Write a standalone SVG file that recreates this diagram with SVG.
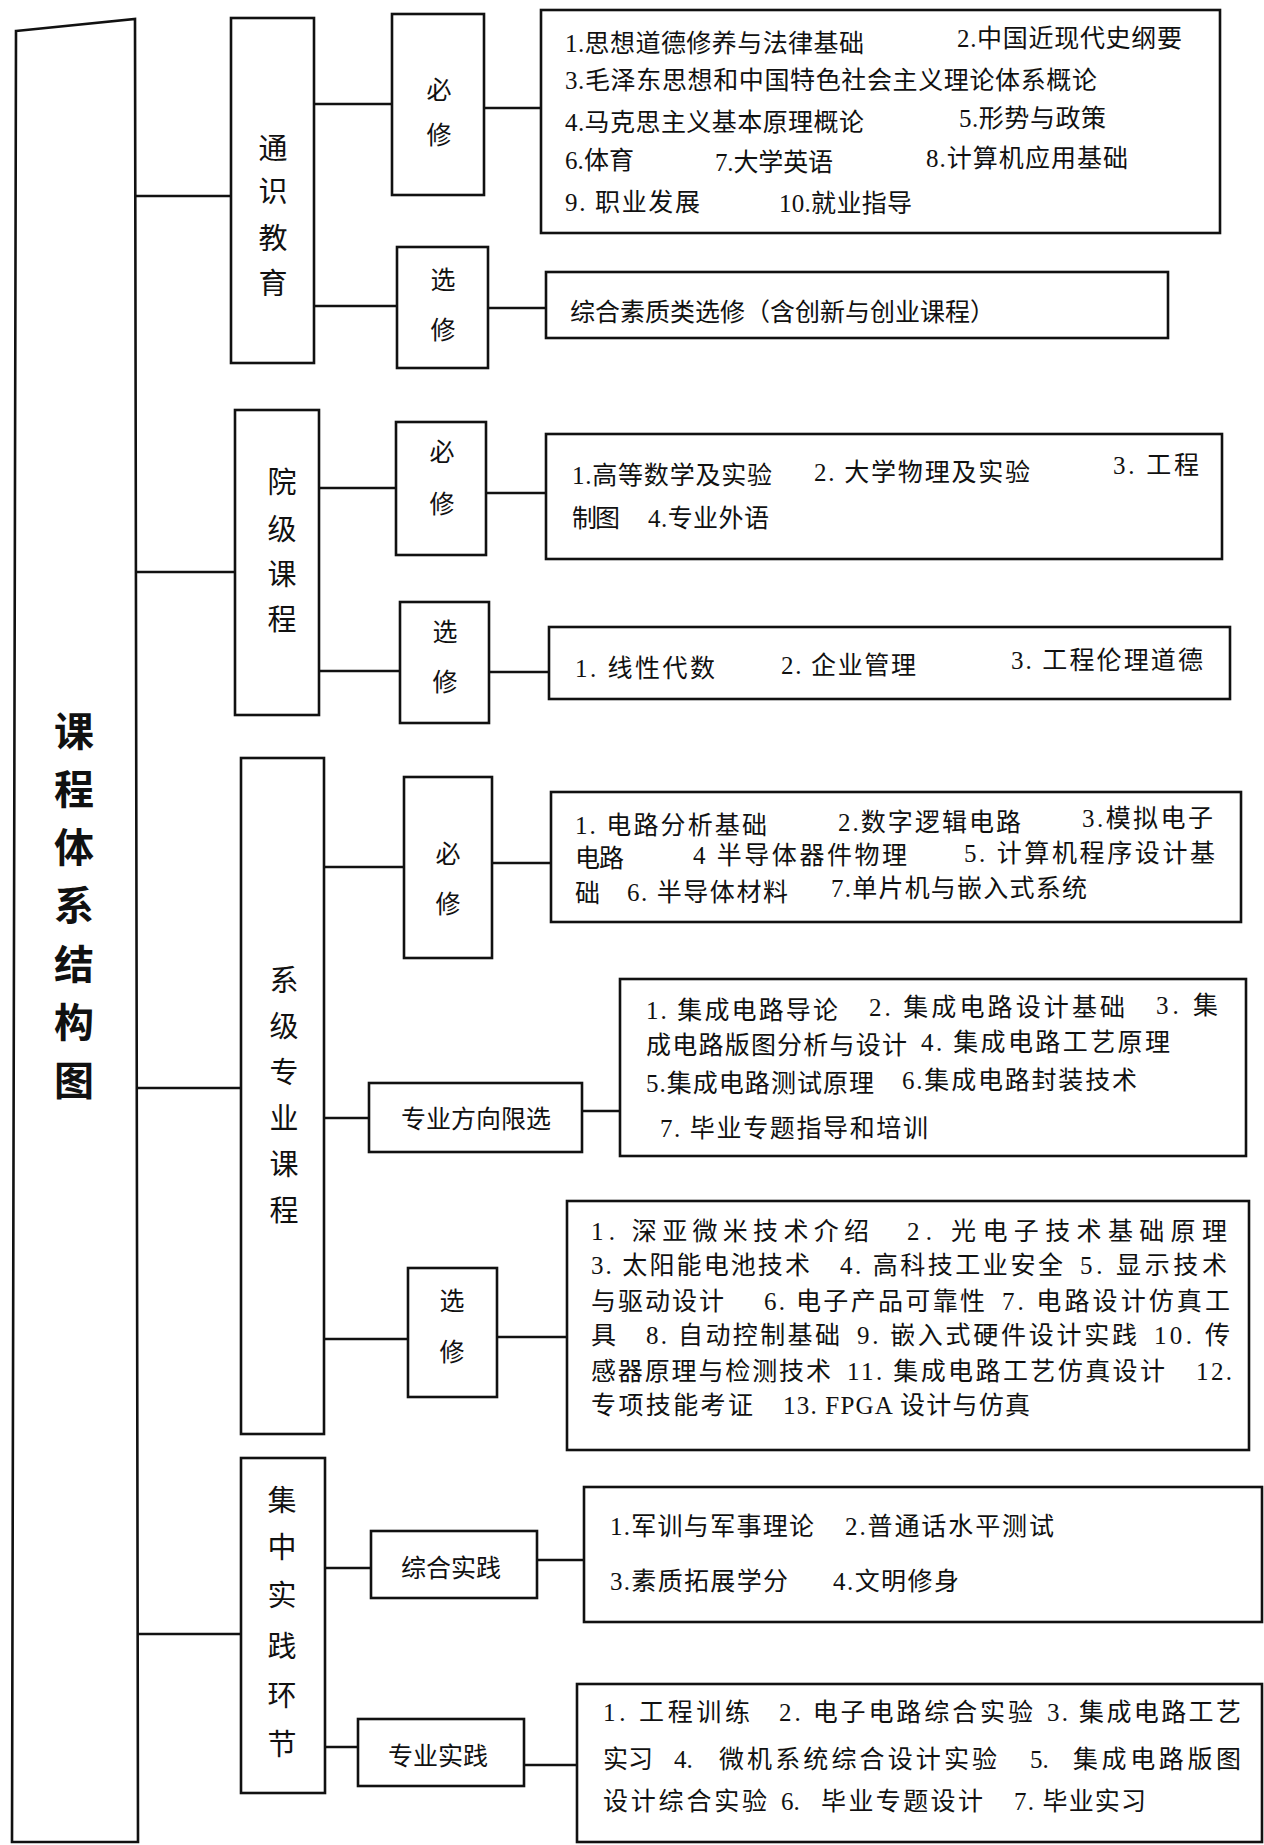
<svg xmlns="http://www.w3.org/2000/svg" width="1264" height="1845" viewBox="0 0 1264 1845">
<style>
.bx{fill:#fff;stroke:#111;stroke-width:2.6}
.ln{stroke:#111;stroke-width:2.6;fill:none}
.t{font-family:'Liberation Serif','Noto Sans CJK SC',serif;font-size:25px;fill:#111;dominant-baseline:central}
.l1{font-family:'Noto Sans CJK SC','Liberation Serif',sans-serif;font-size:29px;fill:#111;text-anchor:middle;dominant-baseline:central}
.l2{font-family:'Noto Sans CJK SC','Liberation Serif',sans-serif;font-size:25px;fill:#111;text-anchor:middle;dominant-baseline:central}
.ti{font-family:'Noto Sans CJK SC',sans-serif;font-size:40px;font-weight:bold;fill:#111;text-anchor:middle;dominant-baseline:central}
</style>
<rect width="1264" height="1845" fill="#fff"/>
<g id="connectors">
<path class="ln" d="M136 196H231M136 572H235M136 1088H241M136 1634H241"/>
<path class="ln" d="M314 104H392M484 108H541M314 306H397M488 308H546"/>
<path class="ln" d="M319 488H396M486 493H546M319 671H400M489 672H549"/>
<path class="ln" d="M324 867H404M492 863H551M324 1118H369M582 1111H620M324 1339H408M497 1337H567"/>
<path class="ln" d="M325 1568H371M537 1560H584M325 1747H358M524 1765H577"/>
</g>
<g id="root">
<path class="bx" d="M16 31L135 19L138 1842L12 1842Z"/>
<text class="ti" x="74" y="729">课</text>
<text class="ti" x="74" y="787">程</text>
<text class="ti" x="74" y="845">体</text>
<text class="ti" x="74" y="903">系</text>
<text class="ti" x="74" y="962">结</text>
<text class="ti" x="74" y="1020">构</text>
<text class="ti" x="74" y="1078">图</text>
</g>
<g id="tongshi">
<rect class="bx" x="231" y="18" width="83" height="345"/>
<text class="l1" x="273" y="146">通</text>
<text class="l1" x="273" y="189">识</text>
<text class="l1" x="273" y="236">教</text>
<text class="l1" x="273" y="281">育</text>
</g>
<g id="tongshi-bixiu">
<rect class="bx" x="392" y="14" width="92" height="181"/>
<text class="l2" x="439" y="88">必</text>
<text class="l2" x="439" y="133">修</text>
</g>
<g id="tongshi-xuanxiu">
<rect class="bx" x="397" y="247" width="91" height="121"/>
<text class="l2" x="443" y="278">选</text>
<text class="l2" x="443" y="328">修</text>
</g>
<g id="tongshi-bixiu-list">
<rect class="bx" x="541" y="10" width="679" height="223"/>
<text class="t" x="565" y="43" textLength="299" lengthAdjust="spacing">1.思想道德修养与法律基础</text>
<text class="t" x="957" y="38" textLength="225" lengthAdjust="spacing">2.中国近现代史纲要</text>
<text class="t" x="565" y="80" textLength="532" lengthAdjust="spacing">3.毛泽东思想和中国特色社会主义理论体系概论</text>
<text class="t" x="565" y="122" textLength="299" lengthAdjust="spacing">4.马克思主义基本原理概论</text>
<text class="t" x="959" y="118" textLength="147" lengthAdjust="spacing">5.形势与政策</text>
<text class="t" x="565" y="160" textLength="69" lengthAdjust="spacing">6.体育</text>
<text class="t" x="715" y="162" textLength="118" lengthAdjust="spacing">7.大学英语</text>
<text class="t" x="926" y="158" textLength="202" lengthAdjust="spacing">8.计算机应用基础</text>
<text class="t" x="565" y="202" textLength="135" lengthAdjust="spacing">9. 职业发展</text>
<text class="t" x="779" y="203" textLength="133" lengthAdjust="spacing">10.就业指导</text>
</g>
<g id="tongshi-xuanxiu-list">
<rect class="bx" x="546" y="272" width="622" height="66"/>
<text class="t" x="570" y="312" textLength="425" lengthAdjust="spacing">综合素质类选修（含创新与创业课程）</text>
</g>
<g id="yuanji">
<rect class="bx" x="235" y="410" width="84" height="305"/>
<text class="l1" x="282" y="480">院</text>
<text class="l1" x="282" y="527">级</text>
<text class="l1" x="282" y="572">课</text>
<text class="l1" x="282" y="617">程</text>
</g>
<g id="yuanji-bixiu">
<rect class="bx" x="396" y="422" width="90" height="133"/>
<text class="l2" x="442" y="450">必</text>
<text class="l2" x="442" y="502">修</text>
</g>
<g id="yuanji-xuanxiu">
<rect class="bx" x="400" y="602" width="89" height="121"/>
<text class="l2" x="445" y="630">选</text>
<text class="l2" x="445" y="680">修</text>
</g>
<g id="yuanji-bixiu-list">
<rect class="bx" x="546" y="434" width="676" height="125"/>
<text class="t" x="572" y="475" textLength="200" lengthAdjust="spacing">1.高等数学及实验</text>
<text class="t" x="814" y="472" textLength="216" lengthAdjust="spacing">2. 大学物理及实验</text>
<text class="t" x="1113" y="465" textLength="86" lengthAdjust="spacing">3. 工程</text>
<text class="t" x="572" y="518" textLength="48" lengthAdjust="spacing">制图</text>
<text class="t" x="648" y="518" textLength="121" lengthAdjust="spacing">4.专业外语</text>
</g>
<g id="yuanji-xuanxiu-list">
<rect class="bx" x="549" y="627" width="681" height="72"/>
<text class="t" x="575" y="668" textLength="140" lengthAdjust="spacing">1. 线性代数</text>
<text class="t" x="781" y="665" textLength="135" lengthAdjust="spacing">2. 企业管理</text>
<text class="t" x="1011" y="660" textLength="192" lengthAdjust="spacing">3. 工程伦理道德</text>
</g>
<g id="xiji">
<rect class="bx" x="241" y="758" width="83" height="676"/>
<text class="l1" x="284" y="978">系</text>
<text class="l1" x="284" y="1024">级</text>
<text class="l1" x="284" y="1070">专</text>
<text class="l1" x="284" y="1116">业</text>
<text class="l1" x="284" y="1162">课</text>
<text class="l1" x="284" y="1208">程</text>
</g>
<g id="xiji-bixiu">
<rect class="bx" x="404" y="777" width="88" height="181"/>
<text class="l2" x="448" y="852">必</text>
<text class="l2" x="448" y="902">修</text>
</g>
<g id="xiji-fangxiang">
<rect class="bx" x="369" y="1083" width="213" height="69"/>
<text class="l2" x="476" y="1117">专业方向限选</text>
</g>
<g id="xiji-xuanxiu">
<rect class="bx" x="408" y="1268" width="89" height="129"/>
<text class="l2" x="452" y="1299">选</text>
<text class="l2" x="452" y="1350">修</text>
</g>
<g id="xiji-bixiu-list">
<rect class="bx" x="551" y="792" width="690" height="130"/>
<text class="t" x="575" y="825" textLength="192" lengthAdjust="spacing">1. 电路分析基础</text>
<text class="t" x="838" y="822" textLength="183" lengthAdjust="spacing">2.数字逻辑电路</text>
<text class="t" x="1082" y="818" textLength="131" lengthAdjust="spacing">3.模拟电子</text>
<text class="t" x="575" y="858" textLength="49" lengthAdjust="spacing">电路</text>
<text class="t" x="693" y="855" textLength="214" lengthAdjust="spacing">4 半导体器件物理</text>
<text class="t" x="964" y="853" textLength="251" lengthAdjust="spacing">5. 计算机程序设计基</text>
<text class="t" x="575" y="893">础</text>
<text class="t" x="627" y="892" textLength="161" lengthAdjust="spacing">6. 半导体材料</text>
<text class="t" x="831" y="888" textLength="256" lengthAdjust="spacing">7.单片机与嵌入式系统</text>
</g>
<g id="xiji-fangxiang-list">
<rect class="bx" x="620" y="979" width="626" height="177"/>
<text class="t" x="646" y="1010" textLength="192" lengthAdjust="spacing">1. 集成电路导论</text>
<text class="t" x="869" y="1007" textLength="256" lengthAdjust="spacing">2. 集成电路设计基础</text>
<text class="t" x="1156" y="1005" textLength="62" lengthAdjust="spacing">3. 集</text>
<text class="t" x="646" y="1045" textLength="261" lengthAdjust="spacing">成电路版图分析与设计</text>
<text class="t" x="921" y="1042" textLength="249" lengthAdjust="spacing">4. 集成电路工艺原理</text>
<text class="t" x="646" y="1083" textLength="228" lengthAdjust="spacing">5.集成电路测试原理</text>
<text class="t" x="902" y="1080" textLength="235" lengthAdjust="spacing">6.集成电路封装技术</text>
<text class="t" x="660" y="1128" textLength="268" lengthAdjust="spacing">7. 毕业专题指导和培训</text>
</g>
<g id="xiji-xuanxiu-list">
<rect class="bx" x="567" y="1201" width="682" height="249"/>
<text class="t" x="591" y="1231" textLength="278" lengthAdjust="spacing">1. 深亚微米技术介绍</text>
<text class="t" x="907" y="1231" textLength="320" lengthAdjust="spacing">2. 光电子技术基础原理</text>
<text class="t" x="591" y="1265" textLength="219" lengthAdjust="spacing">3. 太阳能电池技术</text>
<text class="t" x="840" y="1265" textLength="223" lengthAdjust="spacing">4. 高科技工业安全</text>
<text class="t" x="1080" y="1265" textLength="147" lengthAdjust="spacing">5. 显示技术</text>
<text class="t" x="591" y="1301" textLength="133" lengthAdjust="spacing">与驱动设计</text>
<text class="t" x="764" y="1301" textLength="221" lengthAdjust="spacing">6. 电子产品可靠性</text>
<text class="t" x="1002" y="1301" textLength="228" lengthAdjust="spacing">7. 电路设计仿真工</text>
<text class="t" x="591" y="1335">具</text>
<text class="t" x="646" y="1335" textLength="194" lengthAdjust="spacing">8. 自动控制基础</text>
<text class="t" x="857" y="1335" textLength="280" lengthAdjust="spacing">9. 嵌入式硬件设计实践</text>
<text class="t" x="1154" y="1335" textLength="76" lengthAdjust="spacing">10. 传</text>
<text class="t" x="591" y="1371" textLength="240" lengthAdjust="spacing">感器原理与检测技术</text>
<text class="t" x="847" y="1371" textLength="318" lengthAdjust="spacing">11. 集成电路工艺仿真设计</text>
<text class="t" x="1196" y="1371" textLength="36" lengthAdjust="spacing">12.</text>
<text class="t" x="591" y="1405" textLength="162" lengthAdjust="spacing">专项技能考证</text>
<text class="t" x="783" y="1405" textLength="247" lengthAdjust="spacing">13. FPGA 设计与仿真</text>
</g>
<g id="jizhong">
<rect class="bx" x="241" y="1458" width="84" height="335"/>
<text class="l1" x="282" y="1498">集</text>
<text class="l1" x="282" y="1545">中</text>
<text class="l1" x="282" y="1593">实</text>
<text class="l1" x="282" y="1644">践</text>
<text class="l1" x="282" y="1693">环</text>
<text class="l1" x="282" y="1742">节</text>
</g>
<g id="jizhong-zonghe">
<rect class="bx" x="371" y="1531" width="166" height="67"/>
<text class="l2" x="451" y="1566">综合实践</text>
</g>
<g id="jizhong-zhuanye">
<rect class="bx" x="358" y="1719" width="166" height="67"/>
<text class="l2" x="438" y="1754">专业实践</text>
</g>
<g id="jizhong-zonghe-list">
<rect class="bx" x="584" y="1487" width="678" height="135"/>
<text class="t" x="610" y="1526" textLength="204" lengthAdjust="spacing">1.军训与军事理论</text>
<text class="t" x="845" y="1526" textLength="209" lengthAdjust="spacing">2.普通话水平测试</text>
<text class="t" x="610" y="1581" textLength="178" lengthAdjust="spacing">3.素质拓展学分</text>
<text class="t" x="833" y="1581" textLength="126" lengthAdjust="spacing">4.文明修身</text>
</g>
<g id="jizhong-zhuanye-list">
<rect class="bx" x="577" y="1684" width="685" height="158"/>
<text class="t" x="603" y="1712" textLength="147" lengthAdjust="spacing">1. 工程训练</text>
<text class="t" x="779" y="1712" textLength="254" lengthAdjust="spacing">2. 电子电路综合实验</text>
<text class="t" x="1047" y="1712" textLength="194" lengthAdjust="spacing">3. 集成电路工艺</text>
<text class="t" x="603" y="1759" textLength="50" lengthAdjust="spacing">实习</text>
<text class="t" x="674" y="1759">4.</text>
<text class="t" x="719" y="1759" textLength="278" lengthAdjust="spacing">微机系统综合设计实验</text>
<text class="t" x="1030" y="1759">5.</text>
<text class="t" x="1073" y="1759" textLength="168" lengthAdjust="spacing">集成电路版图</text>
<text class="t" x="603" y="1801" textLength="164" lengthAdjust="spacing">设计综合实验</text>
<text class="t" x="781" y="1801">6.</text>
<text class="t" x="821" y="1801" textLength="162" lengthAdjust="spacing">毕业专题设计</text>
<text class="t" x="1014" y="1801" textLength="132" lengthAdjust="spacing">7. 毕业实习</text>
</g>
</svg>
